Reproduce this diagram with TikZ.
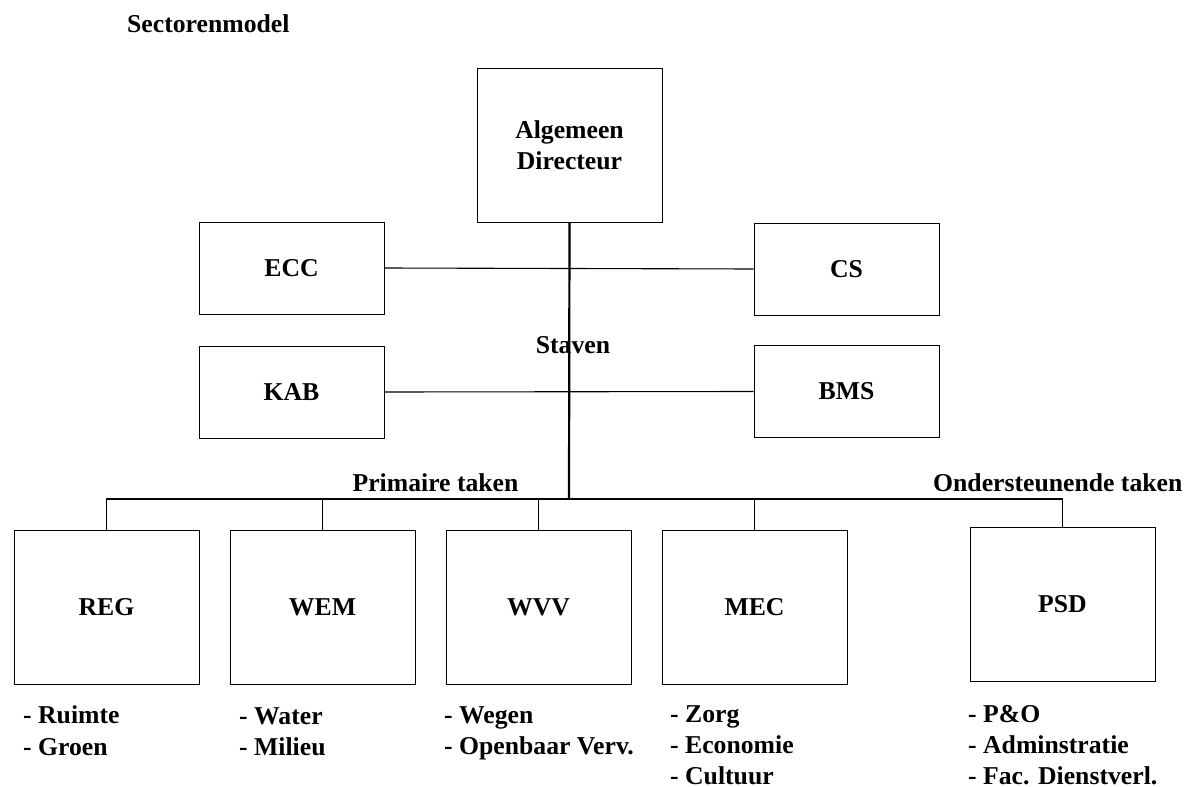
\documentclass[tikz,border=0pt]{standalone}
\usepackage{fontspec}
\setmainfont{Liberation Serif}
\begin{document}
\begin{tikzpicture}[x=1pt,y=-1pt,
  every node/.style={font=\fontsize{25.7}{31}\selectfont\bfseries},
  box/.style={draw, line width=1pt, minimum width=185pt, inner sep=0pt},
  link/.style={line width=1.1pt},
  main/.style={line width=2.2pt},
  txt/.style={inner sep=0pt, anchor=base west},
  ctxt/.style={inner sep=0pt, anchor=base}]
\useasboundingbox[fill=white] (0,0) rectangle (1187,787);

% boxes
\node[box, minimum height=154pt, align=center] (ad) at (569.5,145) {Algemeen\\Directeur};
\node[box, minimum height=92pt] (ecc) at (291.5,268) {ECC};
\node[box, minimum height=92pt] (cs) at (846.5,269) {CS};
\node[box, minimum height=92pt] (kab) at (291.5,392) {KAB};
\node[box, minimum height=92pt] (bms) at (846.5,391.5) {BMS};
\node[box, minimum height=154pt] (reg) at (106.5,607) {REG};
\node[box, minimum height=154pt] (wem) at (322.5,607) {WEM};
\node[box, minimum height=154pt] (wvv) at (538.5,607) {WVV};
\node[box, minimum height=154pt] (mec) at (754.5,607) {MEC};
\node[box, minimum height=154pt] (psd) at (1062.5,604) {PSD};

% labels
\node[txt] (title) at (127,32) {Sectorenmodel};
\node[ctxt] (staven) at (573,353) {Staven};
\node[ctxt] (prim) at (435.5,491) {Primaire taken};
\node[txt] (onder) at (933,491) {Ondersteunende taken};

% task lists
\node[txt] (reg1) at (23,723) {- Ruimte};
\node[txt] (reg2) at (23,755) {- Groen};
\node[txt] (wem1) at (239,724) {- Water};
\node[txt] (wem2) at (239,755) {- Milieu};
\node[txt] (wvv1) at (444,723) {- Wegen};
\node[txt] (wvv2) at (444,754) {- Openbaar Verv.};
\node[txt] (mec1) at (670,722) {- Zorg};
\node[txt] (mec2) at (670,753) {- Economie};
\node[txt] (mec3) at (670,784) {- Cultuur};
\node[txt] (psd1) at (968,722) {- P\&O};
\node[txt] (psd2) at (968,753) {- Adminstratie};
\node[txt] (psd3) at (968,784) {- Fac. Dienstverl.};

% connectors
\coordinate (bus) at (569,499);
\draw[link] (ecc.east) -- (cs.west);
\draw[link] (kab.east) -- (bms.west);
\draw[link] (reg.north) -- (reg.north |- bus) -- (psd.north |- bus) -- (psd.north);
\draw[link] (wem.north) -- (wem.north |- bus);
\draw[link] (wvv.north) -- (wvv.north |- bus);
\draw[link] (mec.north) -- (mec.north |- bus);
\draw[main] (ad.south) -- (bus);
\end{tikzpicture}
\end{document}
